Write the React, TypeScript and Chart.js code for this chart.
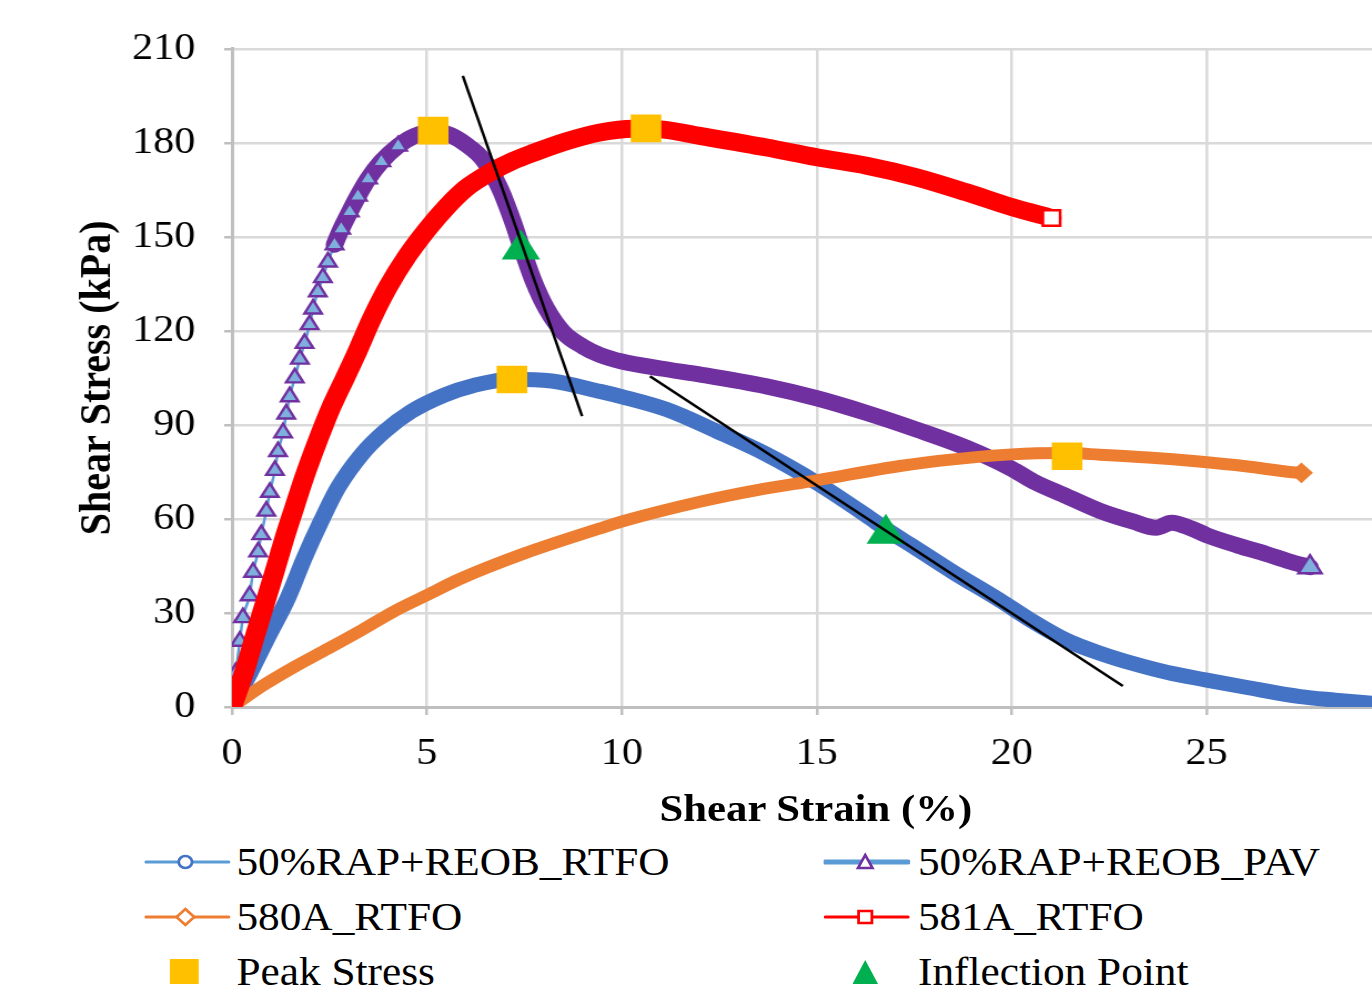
import React, { useEffect, useRef } from "react";
import { Chart, registerables } from "chart.js";
Chart.register(...registerables);

// ---------- data ----------
const X_MIN = 0;
const X_MAX = 29.24;
const X_STEP = 5;
const Y_MIN = 0;
const Y_MAX = 210;
const Y_STEP = 30;

const X_TITLE = "Shear Strain (%)";
const Y_TITLE = "Shear Stress (kPa)";
const SERIES_NAMES = ["50%RAP+REOB_RTFO", "50%RAP+REOB_PAV", "580A_RTFO", "581A_RTFO"];

const BLUE_X = [0, 0.41, 0.92, 1.44, 1.86, 2.29, 2.72, 3.32, 3.92, 4.6, 5.46, 6.2, 7.18, 8.2, 9.44, 10, 11.15, 12.43, 13.71, 15, 16.28, 16.8, 17.5, 18.5, 19.7, 20.5, 21.4, 22.3, 23.1, 24, 25, 26, 27.4, 28.3, 29.24];
const BLUE_Y = [0, 9.6, 22.3, 35, 47.7, 59.4, 70, 80.5, 88, 94.3, 99.6, 102.6, 104.6, 104, 100.7, 99, 94.9, 88, 80.6, 71.5, 61, 56.5, 51, 43, 34, 27.6, 21.3, 17, 13.9, 11, 8.6, 6.3, 3.3, 2.2, 1.2];

const PURPLE_X = [0, 0.1, 0.2, 0.28, 0.45, 0.54, 0.67, 0.75, 0.88, 0.97, 1.1, 1.18, 1.31, 1.39, 1.48, 1.61, 1.74, 1.86, 1.99, 2.08, 2.2, 2.33, 2.46, 2.63, 2.8, 3.02, 3.23, 3.49, 3.83, 4.26, 4.68, 5.2, 5.6, 6.0, 6.45, 6.87, 7.2, 7.47, 7.73, 8.07, 8.5, 9.0, 9.44, 10, 11, 12.05, 13.71, 15, 16.28, 17.56, 18.84, 20, 20.55, 21.4, 22.26, 23.1, 23.7, 24.1, 24.6, 25, 25.8, 26.53, 27.1, 27.65];
const PURPLE_Y = [0, 11, 21, 28.5, 35.5, 43, 49.5, 55, 62.5, 68.5, 75.5, 81.5, 87.5, 93.5, 99, 105, 111, 116, 122, 127, 132.5, 137, 142, 147.5, 152.5, 158, 163, 168.5, 174, 179, 182.2, 183.8, 182.5, 179.5, 174.5, 165.5, 155, 145, 136, 127, 119.5, 115, 112.3, 110.2, 108, 106, 102.3, 98.5, 93.8, 88.5, 82.7, 76, 72, 67.3, 62.6, 59.2, 57.2, 58.8, 57, 54.8, 51.5, 48.8, 46.5, 44.6];

const ORANGE_X = [0, 0.75, 1.6, 2.46, 3.32, 4.17, 5.02, 5.8, 7.5, 9.44, 10, 12, 13.5, 15, 17.13, 18.5, 20, 21.4, 22.26, 23.5, 24.8, 26, 27.2, 27.43];
const ORANGE_Y = [0, 6.5, 12.8, 18.6, 24.5, 30.6, 35.8, 40.6, 49, 57, 59.2, 65.5, 69.3, 72.3, 76.9, 79, 80.6, 81, 80.5, 79.6, 78.3, 76.8, 74.9, 74.7];

const RED_X = [0, 0.33, 0.58, 0.84, 1.1, 1.35, 1.61, 1.86, 2.2, 2.55, 2.9, 3.2, 3.57, 4.0, 4.5, 5.0, 5.5, 6.0, 6.66, 7.2, 7.73, 8.58, 9.44, 10.29, 11.0, 12.0, 13.71, 15, 16.28, 17.56, 18.84, 20, 21.02];
const RED_Y = [0, 11.8, 22.3, 32.9, 43.5, 54, 64, 73.5, 85, 95.8, 105, 113, 123.5, 134, 144, 152.3, 159.5, 165.5, 170.8, 174.2, 176.8, 180.5, 183.3, 184.5, 184.3, 182.2, 178.5, 175.4, 172.7, 169, 164.2, 159.5, 156];

const PEAK_X = [5.16, 7.18, 10.62, 21.42];
const PEAK_Y = [183.9, 104.5, 184.6, 80];
const INFLECTION_X = [7.41, 16.77];
const INFLECTION_Y = [146, 55.3];
const TANGENT1_X = [5.92, 8.98];
const TANGENT1_Y = [201.4, 92.8];
const TANGENT2_X = [10.72, 22.85];
const TANGENT2_Y = [105.5, 6.7];

// ---------- layout / style ----------
const STRETCH = 1.11;
const DESIGN_W = 1236;
const CANVAS_H = 833;
const FONT = '"Liberation Serif", "Times New Roman", Times, serif';

const C_BLUE = "#4472C4";
const C_LIGHTBLUE = "#5B9BD5";
const C_PURPLE = "#7030A0";
const C_ORANGE = "#ED7D31";
const C_RED = "#FF0000";
const C_GOLD = "#FFC000";
const C_GREEN = "#00B050";

const pts = (xs: number[], ys: number[]) => xs.map((x, i) => ({ x, y: ys[i] }));

const PURPLE_THIN_UNTIL = 2.63;
const PURPLE_MARK_UNTIL = 4.5;

export default function App() {
  const ref = useRef<HTMLCanvasElement>(null);

  useEffect(() => {
    const canvas = ref.current!;
    const lastIdx = (arr: number[]) => arr.length - 1;
    const chart = new Chart(canvas, {
      type: "line",
      data: {
        datasets: [
          {
            label: "Tangent 2",
            data: pts(TANGENT2_X, TANGENT2_Y),
            borderColor: "#000",
            borderWidth: 2.5,
            pointRadius: 0,
            order: 0,
          },
          {
            label: "Tangent 1",
            data: pts(TANGENT1_X, TANGENT1_Y),
            borderColor: "#000",
            borderWidth: 2.5,
            pointRadius: 0,
            order: 1,
          },
          {
            label: "Inflection Point",
            data: pts(INFLECTION_X, INFLECTION_Y),
            showLine: false,
            pointStyle: "triangle",
            pointRadius: 20,
            pointBorderWidth: 0,
            pointBackgroundColor: C_GREEN,
            pointBorderColor: C_GREEN,
            order: 2,
          },
          {
            label: "Peak Stress",
            data: pts(PEAK_X, PEAK_Y),
            showLine: false,
            pointStyle: "rect",
            pointRadius: 19.5,
            pointBorderWidth: 0,
            pointBackgroundColor: C_GOLD,
            pointBorderColor: C_GOLD,
            order: 3,
          },
          {
            label: SERIES_NAMES[3],
            data: pts(RED_X, RED_Y),
            borderColor: C_RED,
            borderWidth: 18,
            borderCapStyle: "round",
            borderJoinStyle: "round",
            cubicInterpolationMode: "monotone",
            pointStyle: "rect",
            pointRadius: (c: any) => (c.dataIndex === lastIdx(RED_X) ? 11 : 0),
            pointBorderWidth: 2.5,
            pointBorderColor: C_RED,
            pointBackgroundColor: "#FFFFFF",
            order: 4,
          },
          {
            label: SERIES_NAMES[2],
            data: pts(ORANGE_X, ORANGE_Y),
            borderColor: C_ORANGE,
            borderWidth: 12,
            borderCapStyle: "round",
            borderJoinStyle: "round",
            cubicInterpolationMode: "monotone",
            pointStyle: "rectRot",
            pointRadius: (c: any) => (c.dataIndex === lastIdx(ORANGE_X) ? 9 : 0),
            pointBorderWidth: 2,
            pointBorderColor: C_ORANGE,
            pointBackgroundColor: C_ORANGE,
            order: 5,
          },
          {
            label: SERIES_NAMES[1],
            data: pts(PURPLE_X, PURPLE_Y),
            borderColor: C_PURPLE,
            borderWidth: 16,
            borderCapStyle: "round",
            borderJoinStyle: "round",
            cubicInterpolationMode: "monotone",
            segment: {
              borderWidth: (s: any) => (PURPLE_X[s.p1DataIndex] <= PURPLE_THIN_UNTIL ? 2.5 : 16),
              borderColor: (s: any) => (PURPLE_X[s.p1DataIndex] <= PURPLE_THIN_UNTIL ? C_LIGHTBLUE : C_PURPLE),
            },
            pointStyle: "triangle",
            pointRadius: (c: any) =>
              c.dataIndex === lastIdx(PURPLE_X) ? 12 : PURPLE_X[c.dataIndex] < PURPLE_MARK_UNTIL && c.dataIndex > 0 ? 9 : 0,
            pointBorderWidth: 2.4,
            pointBorderColor: C_PURPLE,
            pointBackgroundColor: "#7FB0DD",
            order: 6,
          },
          {
            label: SERIES_NAMES[0],
            data: pts(BLUE_X, BLUE_Y),
            borderColor: C_BLUE,
            borderWidth: 15,
            borderCapStyle: "round",
            borderJoinStyle: "round",
            cubicInterpolationMode: "monotone",
            pointRadius: 0,
            order: 7,
          },
        ],
      },
      options: {
        responsive: false,
        animation: false,
        devicePixelRatio: 1,
        layout: { autoPadding: false, padding: { top: 46, left: 0, right: 0, bottom: 0 } },
        plugins: { legend: { display: false }, tooltip: { enabled: false } },
        scales: {
          x: {
            type: "linear",
            min: X_MIN,
            max: X_MAX,
            ticks: {
              stepSize: X_STEP,
              includeBounds: false,
              autoSkip: false,
              maxRotation: 0,
              font: { family: FONT, size: 38 },
              color: "#000",
              padding: 16,
            },
            grid: { color: "#D9D9D9", lineWidth: 2.5, tickLength: 8, tickColor: "#BFBFBF", tickWidth: 2.5 },
            border: { color: "#BFBFBF", width: 3 },
            title: { display: false },
            afterFit: (s: any) => {
              s.height = CANVAS_H - 707;
              s.paddingRight = 0;
              s.paddingLeft = 0;
            },
          },
          y: {
            type: "linear",
            min: Y_MIN,
            max: Y_MAX,
            ticks: {
              stepSize: Y_STEP,
              font: { family: FONT, size: 38 },
              color: "#000",
              padding: 26,
            },
            grid: { color: "#D9D9D9", lineWidth: 2.5, tickLength: 7, tickColor: "#BFBFBF", tickWidth: 2.5 },
            border: { color: "#BFBFBF", width: 3 },
            title: {
              display: true,
              text: Y_TITLE,
              font: { family: FONT, size: 40, weight: "bold" },
              color: "#000",
              padding: { top: 64.5, bottom: 0 },
            },
            afterFit: (s: any) => {
              s.width = 209;
            },
          },
        },
      },
    } as any);
    return () => chart.destroy();
  }, []);

  const textStyle = (left: number, center: number): React.CSSProperties => ({
    position: "absolute",
    left,
    top: center - 25,
    height: 50,
    lineHeight: "50px",
    fontFamily: FONT,
    fontSize: 39,
    color: "#000",
    whiteSpace: "nowrap",
  });

  const ROW = [861.5, 916.5, 971.5];

  const seriesIcon = (left: number, center: number, lineColor: string, lineW: number, marker: React.ReactNode) => (
    <svg style={{ position: "absolute", left, top: center - 12 }} width={78} height={24}>
      <line x1={1.5} y1={12} x2={76} y2={12} stroke={lineColor} strokeWidth={lineW} strokeLinecap="round" />
      {marker}
    </svg>
  );

  return (
    <div
      style={{
        position: "absolute",
        left: 0,
        top: 0,
        width: DESIGN_W,
        height: 996,
        transform: `scaleX(${STRETCH})`,
        transformOrigin: "0 0",
        background: "#fff",
        overflow: "hidden",
      }}
    >
      <canvas
        ref={ref}
        width={DESIGN_W}
        height={CANVAS_H}
        style={{ position: "absolute", left: 0, top: 0, width: DESIGN_W, height: CANVAS_H }}
      />
      {/* x-axis title */}
      <div
        style={{
          position: "absolute",
          left: 435,
          width: 600,
          top: 808 - 25,
          height: 50,
          lineHeight: "50px",
          textAlign: "center",
          fontFamily: FONT,
          fontSize: 38.5,
          fontWeight: "bold",
          color: "#000",
          whiteSpace: "nowrap",
        }}
      >
        {X_TITLE}
      </div>
      {/* legend column 1 */}
      {seriesIcon(130, ROW[0], C_LIGHTBLUE, 3, <circle cx={37} cy={12} r={6} fill="#fff" stroke={C_BLUE} strokeWidth={2.5} />)}
      <div style={textStyle(213, ROW[0])}>{SERIES_NAMES[0]}</div>
      {seriesIcon(130, ROW[1], C_ORANGE, 3, <polygon points="37,4 45,12 37,20 29,12" fill="#fff" stroke={C_ORANGE} strokeWidth={2.5} />)}
      <div style={textStyle(213, ROW[1])}>{SERIES_NAMES[2]}</div>
      <div style={{ position: "absolute", left: 153, top: ROW[2] - 12.5, width: 25.5, height: 25, background: C_GOLD }} />
      <div style={textStyle(213, ROW[2])}>Peak Stress</div>
      {/* legend column 2 */}
      {seriesIcon(742, ROW[0], C_LIGHTBLUE, 5, <polygon points="37.5,5 44,18 31,18" fill="#fff" stroke={C_PURPLE} strokeWidth={2.5} />)}
      <div style={textStyle(827, ROW[0])}>{SERIES_NAMES[1]}</div>
      {seriesIcon(742, ROW[1], C_RED, 3, <rect x={31.5} y={6} width={12} height={12} fill="#fff" stroke={C_RED} strokeWidth={2.5} />)}
      <div style={textStyle(827, ROW[1])}>{SERIES_NAMES[3]}</div>
      <svg style={{ position: "absolute", left: 768, top: ROW[2] - 12 }} width={23} height={24}>
        <polygon points="11.5,0 23,24 0,24" fill={C_GREEN} />
      </svg>
      <div style={textStyle(827, ROW[2])}>Inflection Point</div>
    </div>
  );
}
